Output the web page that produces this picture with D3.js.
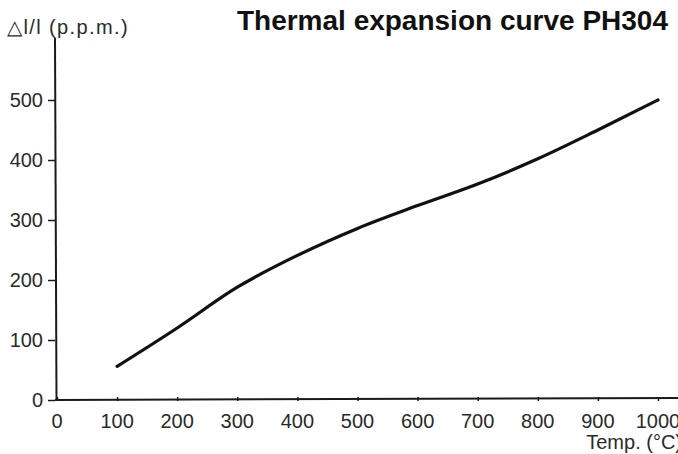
<!DOCTYPE html>
<html>
<head>
<meta charset="utf-8">
<script src="https://cdn.jsdelivr.net/npm/d3@7"></script>
<style>
  body { margin: 0; background: #fff; }
  svg { display: block; font-family: "Liberation Sans", Arial, sans-serif; }
</style>
</head>
<body>
<div id="chart"></div>
<script>
var temps = [100, 200, 300, 400, 500, 600, 700, 800, 900, 1000];
var expansion = [56, 120, 188, 241, 286, 324, 360, 402, 450, 500];
var xTicks = [0, 100, 200, 300, 400, 500, 600, 700, 800, 900, 1000];
var yTicks = [0, 100, 200, 300, 400, 500];

var w = 678;
var h = 454;

var svg = d3.select("#chart").append("svg")
    .attr("width", w)
    .attr("height", h);

var x = d3.scaleLinear().domain([0, 1000]).range([57, 658]);
var y = d3.scaleLinear().domain([0, 500]).range([400, 100]);

var ink = "#1a1a1a";

// axis lines
svg.append("line")
   .attr("x1", 55).attr("x2", w)
   .attr("y1", y(0)).attr("y2", y(0) - 2)
   .attr("stroke", ink).attr("stroke-width", 2);

svg.append("line")
   .attr("x1", 55).attr("x2", 56.5)
   .attr("y1", 38).attr("y2", y(0) + 1)
   .attr("stroke", ink).attr("stroke-width", 2);

// y ticks
var yAxis = d3.axisLeft(y).tickValues(yTicks).tickSize(7).tickPadding(5);
var gy = svg.append("g").attr("transform", "translate(55,0)").call(yAxis);
gy.select(".domain").remove();
gy.selectAll(".tick line").attr("stroke", ink).attr("stroke-width", 1.5);
gy.selectAll(".tick text")
  .attr("fill", "#2a2a2a")
  .style("font-size", "20px")
  .style("font-family", "Liberation Sans, Arial, sans-serif");

// x ticks
var xAxis = d3.axisTop(x).tickValues(xTicks).tickSize(4).tickFormat("");
var gx = svg.append("g").attr("transform", "translate(0," + (y(0) + 1) + ")").call(xAxis);
gx.select(".domain").remove();
gx.selectAll(".tick line").attr("stroke", ink).attr("stroke-width", 1.5);

svg.append("g").selectAll("text")
   .data(xTicks)
   .enter()
   .append("text")
   .attr("x", function(d) { return x(d); })
   .attr("y", 428)
   .attr("text-anchor", "middle")
   .attr("fill", "#2a2a2a")
   .style("font-size", "20px")
   .text(function(d) { return d; });

// curve
var line = d3.line()
    .x(function(d, i) { return x(temps[i]); })
    .y(function(d) { return y(d); })
    .curve(d3.curveMonotoneX);

svg.append("path")
   .datum(expansion)
   .attr("d", line)
   .attr("fill", "none")
   .attr("stroke", "#111")
   .attr("stroke-width", 3.2)
   .attr("stroke-linecap", "round");

// labels
svg.append("text")
   .attr("x", 7).attr("y", 34)
   .attr("fill", "#2a2a2a")
   .style("font-size", "20px")
   .style("letter-spacing", "1.4px")
   .text("\u25B3l/l (p.p.m.)");

svg.append("text")
   .attr("x", 668).attr("y", 30)
   .attr("text-anchor", "end")
   .attr("fill", "#111")
   .style("font-size", "28px")
   .style("font-weight", "bold")
   .text("Thermal expansion curve PH304");

svg.append("text")
   .attr("x", 682).attr("y", 449)
   .attr("text-anchor", "end")
   .attr("fill", "#2a2a2a")
   .style("font-size", "20px")
   .text("Temp. (\u00B0C)");
</script>
</body>
</html>
